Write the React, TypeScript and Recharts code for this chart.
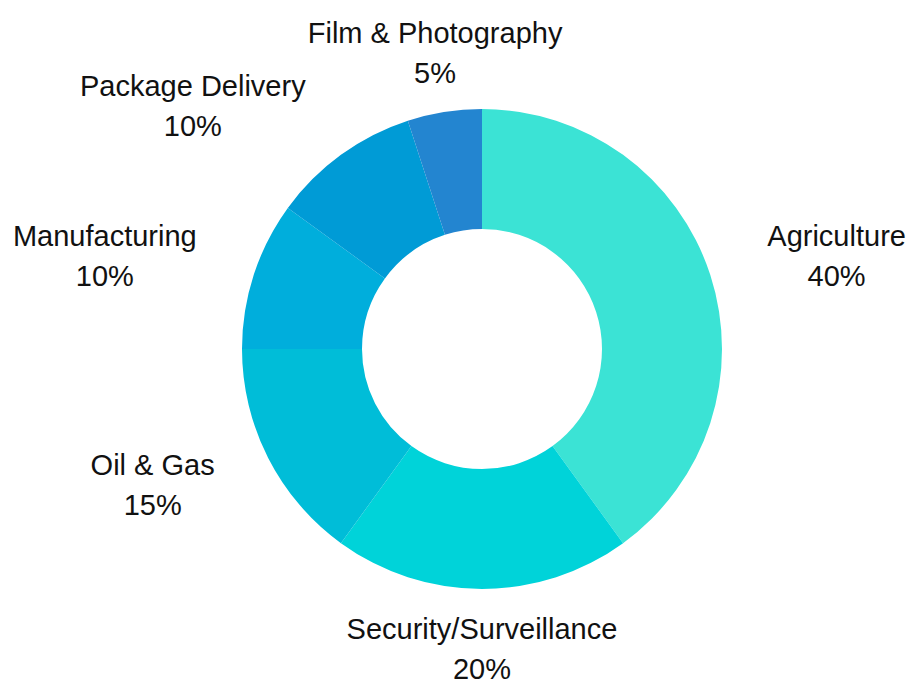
import React from "react";
import { PieChart, Pie, Cell } from "recharts";

const categories = [
  "Agriculture",
  "Security/Surveillance",
  "Oil & Gas",
  "Manufacturing",
  "Package Delivery",
  "Film & Photography",
];
const values = [40, 20, 15, 10, 10, 5];
const colors = ["#3BE3D5", "#00D3D9", "#00BDD8", "#00AEDC", "#009BD6", "#2385D0"];

const data = categories.map((name, i) => ({ name, value: values[i] }));
const total = values.reduce((a, b) => a + b, 0);

const FONT_SIZE = 29;
const FONT = "Liberation Sans, Arial, sans-serif";

let ctx: CanvasRenderingContext2D | null = null;
function measure(t: string): number {
  if (!ctx) {
    const c = document.createElement("canvas");
    ctx = c.getContext("2d");
  }
  if (!ctx) return t.length * FONT_SIZE * 0.5;
  ctx.font = `${FONT_SIZE}px "Liberation Sans"`;
  return ctx.measureText(t).width;
}

const RAD = Math.PI / 180;

const renderLabel = (props: any) => {
  const { cx, cy, midAngle, name, value } = props;
  const r = 300;
  const c = Math.cos(-midAngle * RAD);
  const s = Math.sin(-midAngle * RAD);
  const x = cx + r * c;
  const y = cy + r * s;
  const line1 = name;
  const line2 = `${Math.round((value / total) * 100)}%`;
  const w = Math.max(measure(line1), measure(line2));
  let centerX = x;
  if (c > 0.3) centerX = x + w / 2;
  else if (c < -0.3) centerX = x - w / 2;
  return (
    <g>
      <text
        x={centerX}
        y={y - 20}
        textAnchor="middle"
        dominantBaseline="central"
        fill="#111"
        fontSize={FONT_SIZE}
        fontFamily={FONT}
      >
        {line1}
      </text>
      <text
        x={centerX}
        y={y + 20}
        textAnchor="middle"
        dominantBaseline="central"
        fill="#111"
        fontSize={FONT_SIZE}
        fontFamily={FONT}
      >
        {line2}
      </text>
    </g>
  );
};

export default function App() {
  return (
    <div style={{ position: "absolute", left: 0, top: 0, width: 911, height: 680, background: "#fff" }}>
      <PieChart width={911} height={680} margin={{ top: 0, right: 0, bottom: 0, left: 0 }}>
        <Pie
          data={data}
          dataKey="value"
          nameKey="name"
          cx={482}
          cy={349}
          innerRadius={120}
          outerRadius={240}
          startAngle={90}
          endAngle={-270}
          stroke="none"
          label={renderLabel}
          labelLine={false}
          isAnimationActive={false}
        >
          {data.map((d, i) => (
            <Cell key={d.name} fill={colors[i]} />
          ))}
        </Pie>
      </PieChart>
    </div>
  );
}
